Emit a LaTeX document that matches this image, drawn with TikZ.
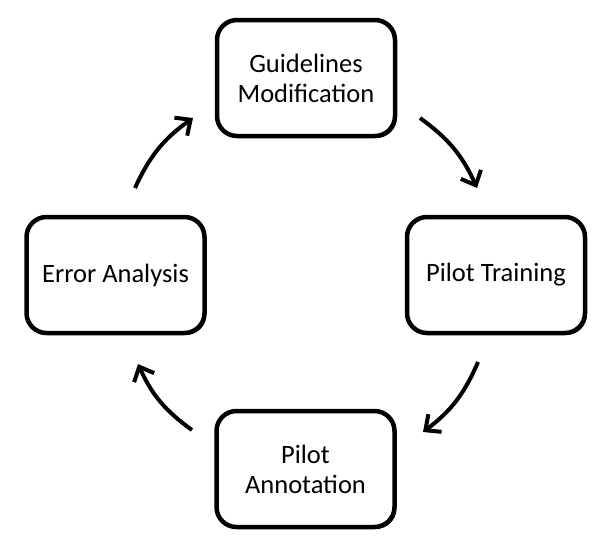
\documentclass[tikz,border=0pt]{standalone}
\usepackage{fontspec}
\setmainfont{Carlito}
\usetikzlibrary{arrows.meta,shadows}
\begin{document}
\begin{tikzpicture}[x=1pt,y=-1pt,
  stagebox/.style={draw=black,line width=4.5pt,rounded corners=20pt,fill=white,
    minimum width=178pt,minimum height=116pt,align=center,
    font=\fontsize{26.5}{30}\selectfont,
    drop shadow={shadow xshift=1.8pt,shadow yshift=-1.8pt,opacity=1,fill=black}},
  cyc/.style={line width=4pt,-{Straight Barb[length=12pt,width=22pt,line width=4pt]}}]
\useasboundingbox (0,0) rectangle (600,550);
\node[stagebox] (gm) at (306,78) {Guidelines\\Modification};
\node[stagebox] (pt) at (496,275) {Pilot Training};
\node[stagebox] (pa) at (305.5,469) {Pilot\\Annotation};
\node[stagebox] (ea) at (115.5,275) {Error Analysis};
\coordinate (a1s) at (420,118);
\coordinate (a1e) at (477,188);
\coordinate (a2s) at (478,362);
\coordinate (a2e) at (423,432);
\coordinate (a3s) at (192,430);
\coordinate (a3e) at (138,364);
\coordinate (a4s) at (135,188);
\coordinate (a4e) at (193,118);
\draw[cyc] (a1s) to[bend left=15] (a1e);
\draw[cyc] (a2s) to[bend left=15] (a2e);
\draw[cyc] (a3s) to[bend left=15] (a3e);
\draw[cyc] (a4s) to[bend left=15] (a4e);
\end{tikzpicture}
\end{document}
